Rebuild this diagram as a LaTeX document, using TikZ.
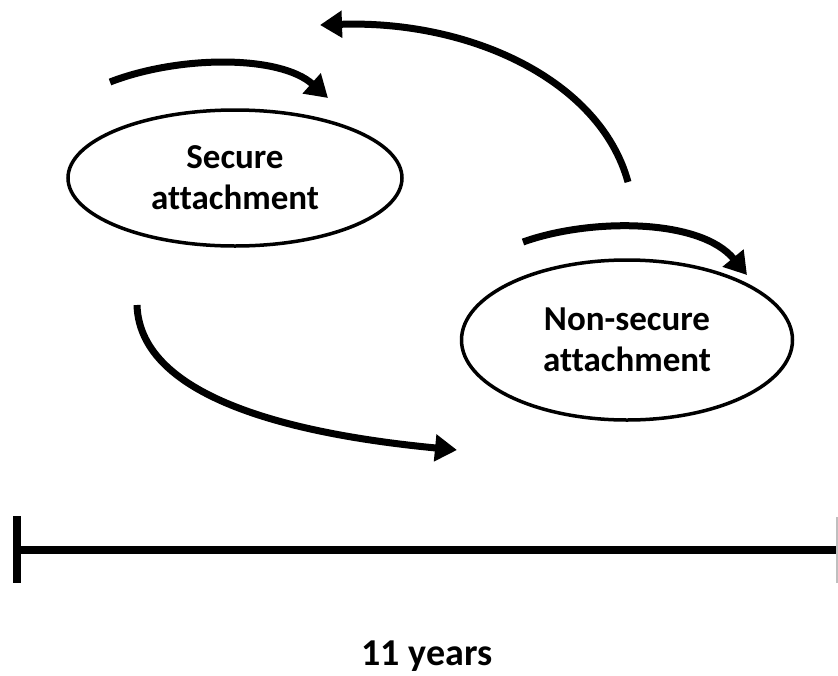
\documentclass[tikz,border=0pt]{standalone}
\usepackage{fontspec}
\setmainfont{Carlito}[Ligatures=NoCommon]
\usetikzlibrary{arrows.meta,shapes.geometric}
\tikzset{
  stateoval/.style={draw=black, line width=3.5pt, ellipse, inner sep=0pt, outer sep=0pt,
    align=center, font=\fontsize{35}{41}\selectfont\bfseries},
  flow/.style={draw=black, line width=7pt, -{Triangle[length=22pt,width=26pt]}},
  axisline/.style={draw=black, line width=8pt},
}
\begin{document}
\begin{tikzpicture}[x=1pt,y=-1pt]
\useasboundingbox (0,0) rectangle (838,675);
\node[stateoval, minimum width=334pt, minimum height=136pt] (sec) at (235,178) {Secure\\attachment};
\node[stateoval, minimum width=331pt, minimum height=160pt] (non) at (627,340) {Non-secure\\attachment};
% arrows
\coordinate (a1s) at (110,82);
\coordinate (a1e) at (328,98);
\draw[flow] (a1s) .. controls (180,55) and (280,55) .. (a1e);
\coordinate (a2s) at (628,182);
\coordinate (a2e) at (320,25);
\draw[flow] (a2s) .. controls (600,80) and (470,20) .. (a2e);
\coordinate (a3s) at (523,242);
\coordinate (a3e) at (747,275);
\draw[flow] (a3s) .. controls (590,218) and (700,218) .. (a3e);
\coordinate (a4s) at (137,305);
\coordinate (a4e) at (457,450);
\draw[flow] (a4s) .. controls (140,400) and (300,435) .. (a4e);
% timeline
\coordinate (tl) at (17,550);
\coordinate (tr) at (838,550);
\draw[axisline] (tl) -- (tr);
\draw[axisline] (17,516) -- (17,583);
\draw[black!25, line width=1.5pt] (837,517) -- (837,583);
\node[anchor=base, font=\fontsize{38}{45}\selectfont\bfseries] (yrs) at (427,665) {11 years};
\end{tikzpicture}
\end{document}
